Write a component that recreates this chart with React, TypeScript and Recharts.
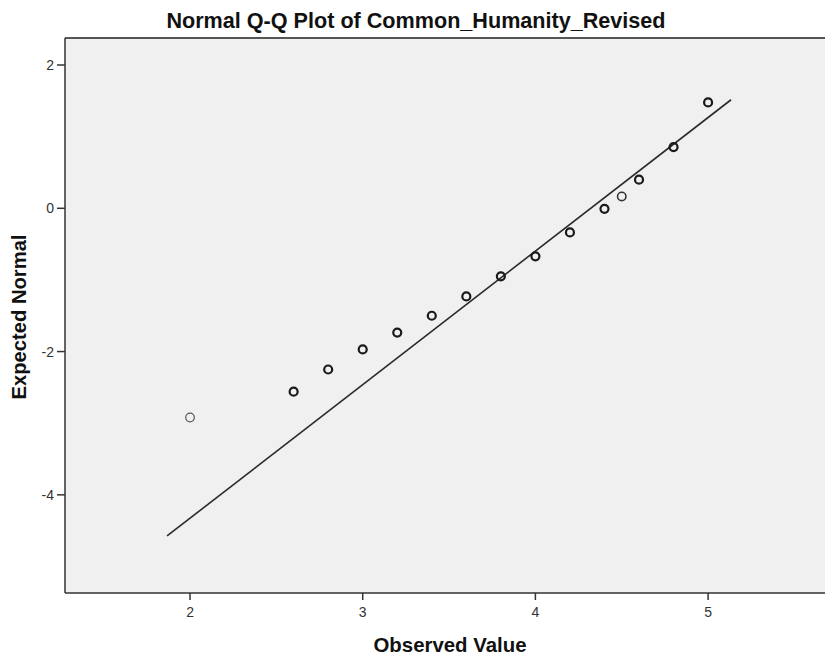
import React from 'react';
import { ScatterChart, Scatter, XAxis, YAxis, CartesianGrid, ReferenceLine } from 'recharts';

// Observed values (x) and expected normal quantiles (y)
const observedValues = [2.0, 2.6, 2.8, 3.0, 3.2, 3.4, 3.6, 3.8, 4.0, 4.2, 4.4, 4.5, 4.6, 4.8, 5.0];
const expectedNormal = [-2.92, -2.56, -2.25, -1.97, -1.735, -1.5, -1.23, -0.95, -0.67, -0.337, -0.007, 0.165, 0.4, 0.855, 1.478];
// points drawn with a lighter outline (single case) vs bold (overlapping cases)
const lightPoints = [2.0];
const mediumPoints = [4.5];

// Reference (normal) line endpoints
const lineX = [1.867, 5.133];
const lineY = [-4.574, 1.515];

const xTicks = [2, 3, 4, 5];
const yTicks = [-4, -2, 0, 2];
const xDomain = [1.276, 5.677];
const yDomain = [-5.37, 2.377];

const title = 'Normal Q-Q Plot of Common_Humanity_Revised';
const xTitle = 'Observed Value';
const yTitle = 'Expected Normal';

const FONT = '"Liberation Sans", Arial, Helvetica, sans-serif';

const points = observedValues.map((x, i) => ({ x, y: expectedNormal[i] }));
const boldData = points.filter((p) => !lightPoints.includes(p.x) && !mediumPoints.includes(p.x));
const lightData = points.filter((p) => lightPoints.includes(p.x));
const mediumData = points.filter((p) => mediumPoints.includes(p.x));

const BoldCircle = (props: any) => (
  <circle cx={props.cx} cy={props.cy} r={4} fill="none" stroke="#1a1a1a" strokeWidth={2.2} />
);
const MediumCircle = (props: any) => (
  <circle cx={props.cx} cy={props.cy} r={4.2} fill="none" stroke="#333" strokeWidth={1.6} />
);
const LightCircle = (props: any) => (
  <circle cx={props.cx} cy={props.cy} r={4.3} fill="none" stroke="#555" strokeWidth={1.2} />
);

const axisStroke = { stroke: '#333', strokeWidth: 1.5 };
const tickStyle = { fontFamily: FONT, fontSize: 14, fill: '#333' };

export default function App() {
  return (
    <div
      style={{
        position: 'absolute',
        left: 0,
        top: 0,
        width: 825,
        height: 660,
        overflow: 'hidden',
        background: '#ffffff',
      }}
    >
      <ScatterChart width={825} height={660} margin={{ top: 38, right: 0, bottom: 0, left: 0 }}>
        <CartesianGrid fill="#f0f0f0" horizontal={false} vertical={false} />
        <XAxis
          type="number"
          dataKey="x"
          domain={xDomain}
          ticks={xTicks}
          allowDataOverflow
          height={67}
          tickSize={7}
          tickMargin={7}
          axisLine={axisStroke}
          tickLine={axisStroke}
          tick={tickStyle}
          label={{
            content: () => (
              <text
                x={450}
                y={652}
                textAnchor="middle"
                fontFamily={FONT}
                fontSize={20.4}
                fontWeight="bold"
                fill="#111"
              >
                {xTitle}
              </text>
            ),
          }}
        />
        <YAxis
          type="number"
          dataKey="y"
          domain={yDomain}
          ticks={yTicks}
          allowDataOverflow
          width={65}
          tickSize={8}
          tickMargin={3}
          axisLine={axisStroke}
          tickLine={axisStroke}
          tick={tickStyle}
          label={{
            content: () => (
              <text
                x={26}
                y={317}
                transform="rotate(-90, 26, 317)"
                textAnchor="middle"
                fontFamily={FONT}
                fontSize={20.2}
                fontWeight="bold"
                fill="#111"
              >
                {yTitle}
              </text>
            ),
          }}
        />
        <ReferenceLine y={yDomain[1]} stroke="#555" strokeWidth={2} />
        <ReferenceLine
          segment={[
            { x: lineX[0], y: lineY[0] },
            { x: lineX[1], y: lineY[1] },
          ]}
          stroke="#2a2a2a"
          strokeWidth={1.6}
        />
        <Scatter data={boldData} shape={BoldCircle} isAnimationActive={false} />
        <Scatter data={mediumData} shape={MediumCircle} isAnimationActive={false} />
        <Scatter data={lightData} shape={LightCircle} isAnimationActive={false} />
      </ScatterChart>
      <svg
        width={825}
        height={36}
        style={{ position: 'absolute', left: 0, top: 0, pointerEvents: 'none' }}
      >
        <text
          x={416}
          y={27.5}
          textAnchor="middle"
          fontFamily={FONT}
          fontSize={21.6}
          fontWeight="bold"
          fill="#111"
        >
          {title}
        </text>
      </svg>
    </div>
  );
}
